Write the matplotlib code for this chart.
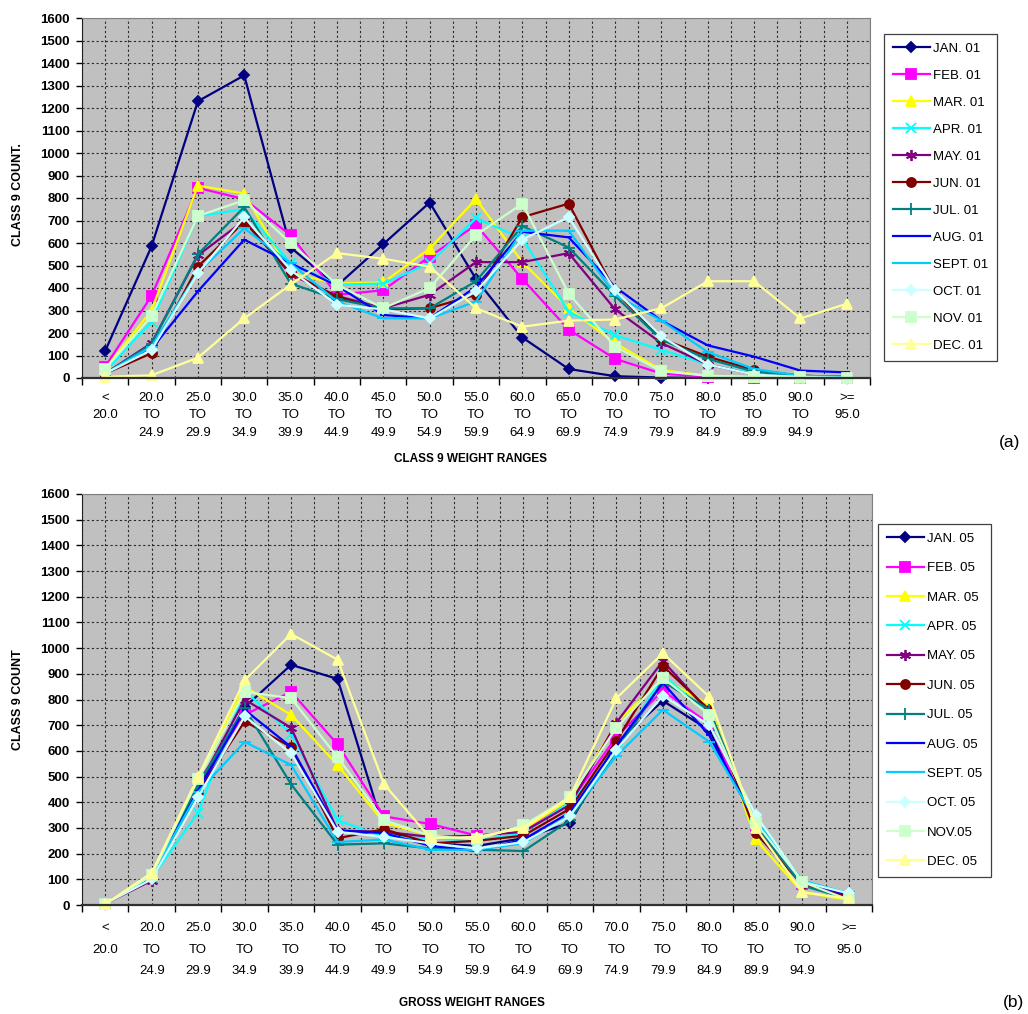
import matplotlib
matplotlib.use("Agg")
import matplotlib.pyplot as plt
from matplotlib.ticker import FixedLocator, NullFormatter

plt.rcParams['font.family'] = ['Liberation Sans', 'DejaVu Sans']

# Weight range categories (x axis)
weight_labels = ["<\n20.0", "20.0\nTO\n24.9", "25.0\nTO\n29.9", "30.0\nTO\n34.9",
                 "35.0\nTO\n39.9", "40.0\nTO\n44.9", "45.0\nTO\n49.9", "50.0\nTO\n54.9",
                 "55.0\nTO\n59.9", "60.0\nTO\n64.9", "65.0\nTO\n69.9", "70.0\nTO\n74.9",
                 "75.0\nTO\n79.9", "80.0\nTO\n84.9", "85.0\nTO\n89.9", "90.0\nTO\n94.9",
                 ">=\n95.0"]
y_ticks = list(range(0, 1700, 100))

# 2001 monthly class 9 counts
jan_01 = [120, 585, 1230, 1345, 580, 410, 595, 780, 440, 180, 40, 8, 2, 0, 0, 0, 0]
feb_01 = [50, 365, 845, 795, 635, 370, 390, 540, 680, 440, 215, 85, 20, 5, 2, 0, 0]
mar_01 = [40, 300, 855, 820, 465, 420, 425, 575, 795, 515, 310, 155, 35, 10, 3, 0, 0]
apr_01 = [30, 250, 720, 750, 510, 415, 420, 510, 710, 620, 295, 190, 125, 60, 20, 5, 0]
may_01 = [20, 155, 545, 700, 460, 365, 310, 370, 515, 515, 555, 305, 155, 60, 15, 5, 0]
jun_01 = [20, 110, 495, 695, 470, 360, 305, 310, 370, 715, 775, 385, 175, 95, 35, 10, 5]
jul_01 = [20, 150, 550, 760, 420, 350, 310, 310, 430, 675, 580, 365, 170, 85, 28, 10, 5]
aug_01 = [20, 130, 385, 615, 510, 410, 280, 265, 405, 650, 625, 405, 255, 145, 95, 33, 25]
sep_01 = [20, 140, 470, 665, 510, 340, 265, 265, 340, 655, 655, 370, 255, 115, 40, 10, 5]
oct_01 = [20, 125, 465, 715, 480, 325, 305, 265, 385, 615, 715, 390, 185, 60, 15, 5, 0]
nov_01 = [40, 275, 720, 790, 600, 415, 310, 400, 635, 775, 375, 140, 30, 10, 5, 3, 0]
dec_01 = [5, 12, 90, 265, 415, 555, 530, 495, 310, 228, 255, 260, 310, 430, 430, 265, 330]

# 2005 monthly class 9 counts
jan_05 = [5, 120, 450, 770, 935, 880, 290, 240, 230, 260, 320, 630, 795, 680, 310, 80, 35]
feb_05 = [5, 110, 480, 740, 830, 625, 345, 315, 270, 290, 400, 655, 835, 705, 300, 80, 30]
mar_05 = [5, 110, 490, 850, 740, 545, 320, 270, 265, 295, 410, 710, 880, 780, 255, 50, 20]
apr_05 = [5, 105, 360, 835, 665, 330, 265, 260, 250, 280, 400, 590, 895, 740, 320, 90, 30]
may_05 = [5, 95, 460, 800, 690, 290, 285, 265, 270, 285, 390, 710, 950, 750, 300, 85, 35]
jun_05 = [5, 110, 440, 715, 615, 260, 295, 240, 250, 270, 375, 640, 930, 760, 280, 80, 30]
jul_05 = [5, 110, 470, 765, 470, 235, 240, 220, 215, 210, 330, 600, 870, 760, 310, 75, 25]
aug_05 = [5, 120, 445, 760, 615, 290, 280, 230, 210, 255, 360, 620, 865, 660, 320, 90, 40]
sep_05 = [5, 115, 440, 635, 545, 245, 255, 215, 215, 240, 350, 580, 760, 635, 330, 95, 45]
oct_05 = [5, 100, 420, 735, 590, 285, 265, 240, 220, 245, 345, 605, 815, 700, 350, 90, 45]
nov_05 = [5, 115, 490, 830, 805, 575, 330, 270, 255, 310, 420, 690, 885, 740, 320, 90, 20]
dec_05 = [5, 125, 500, 875, 1055, 955, 470, 260, 265, 300, 420, 805, 980, 810, 300, 50, 25]

labels_01 = ["JAN. 01", "FEB. 01", "MAR. 01", "APR. 01", "MAY. 01", "JUN. 01",
             "JUL. 01", "AUG. 01", "SEPT. 01", "OCT. 01", "NOV. 01", "DEC. 01"]
labels_05 = ["JAN. 05", "FEB. 05", "MAR. 05", "APR. 05", "MAY. 05", "JUN. 05",
             "JUL. 05", "AUG. 05", "SEPT. 05", "OCT. 05", "NOV.05", "DEC. 05"]
series_01 = [jan_01, feb_01, mar_01, apr_01, may_01, jun_01,
             jul_01, aug_01, sep_01, oct_01, nov_01, dec_01]
series_05 = [jan_05, feb_05, mar_05, apr_05, may_05, jun_05,
             jul_05, aug_05, sep_05, oct_05, nov_05, dec_05]

# old spreadsheet palette / marker cycle
colors = ["#000080", "#FF00FF", "#FFFF00", "#00FFFF", "#800080", "#800000",
          "#008080", "#0000FF", "#00CCFF", "#CCFFFF", "#CCFFCC", "#FFFF99"]
markers = ["D", "s", "^", "x", (6, 2, 0), "o", "+", "_", "_", "D", "s", "^"]
msizes = [5.5, 6.5, 7, 7, 8, 6.5, 8, 5, 8, 5.5, 6.5, 7]

W, H = 1028, 1014


def fig_rect(left, top, right, bottom):
    return [left / W, 1 - bottom / H, (right - left) / W, (bottom - top) / H]


def draw_panel(fig, rect, series, labels, linesp, xpad, ylabel, xlabel,
               ylabel_pos, xlabel_pos, legend_rect, legend_sp):
    ax = fig.add_axes(rect)
    ax.set_facecolor("#C0C0C0")
    x = list(range(len(weight_labels)))
    handles = []
    for vals, c, m, ms, lab in zip(series, colors, markers, msizes, labels):
        h, = ax.plot(x, vals, color=c, lw=1.6, marker=m, ms=ms, mec=c, mfc=c,
                     mew=1.3, label=lab, clip_on=False)
        handles.append(h)

    ax.set_xlim(-0.5, 16.5)
    ax.set_ylim(0, 1600)
    ax.set_yticks(y_ticks)
    ax.set_yticklabels([str(v) for v in y_ticks], fontsize=9.5, fontweight="bold")
    ax.tick_params(axis="y", direction="out", length=4, width=1, pad=5)

    # boundary ticks as majors, category labels on minors
    ax.xaxis.set_major_locator(FixedLocator([k + 0.5 for k in range(-1, 17)]))
    ax.xaxis.set_major_formatter(NullFormatter())
    ax.xaxis.set_minor_locator(FixedLocator(x))
    ax.set_xticklabels(weight_labels, minor=True, fontsize=9.5, linespacing=linesp)
    ax.tick_params(axis="x", which="major", direction="out", length=5, width=1)
    ax.tick_params(axis="x", which="minor", length=0, pad=xpad)

    grid_kw = dict(color="#2a2a2a", lw=0.8, linestyle=(0, (2, 2.2)))
    ax.grid(True, which="major", axis="both", **grid_kw)
    ax.grid(True, which="minor", axis="x", **grid_kw)
    ax.set_axisbelow(True)

    for s in ("top", "right"):
        ax.spines[s].set_color("#808080")
    ax.spines["left"].set_color("#202020")
    ax.spines["bottom"].set_color("#303030")
    ax.spines["bottom"].set_linewidth(1.6)

    fig.text(ylabel_pos[0] / W, 1 - ylabel_pos[1] / H, ylabel, rotation=90,
             ha="center", va="center", fontsize=9, fontweight="bold")
    fig.text(xlabel_pos[0] / W, 1 - xlabel_pos[1] / H, xlabel,
             ha="center", va="center", fontsize=8.5, fontweight="bold")

    leg = fig.legend(handles=handles, loc="upper left",
                     bbox_to_anchor=(legend_rect[0] / W, 1 - legend_rect[1] / H),
                     fontsize=9.5, frameon=True, fancybox=False, framealpha=1,
                     edgecolor="#404040", handlelength=2.8, handletextpad=0.25,
                     labelspacing=legend_sp, borderpad=0.65, borderaxespad=0)
    leg.get_frame().set_linewidth(0.9)
    return ax


fig = plt.figure(figsize=(W / 100, H / 100), dpi=100)

draw_panel(fig, fig_rect(82, 18, 870, 378), series_01, labels_01, 1.62, 10,
           "CLASS 9 COUNT.", "CLASS 9 WEIGHT RANGES",
           (18, 195), (470, 459), (884, 34), 1.12)
draw_panel(fig, fig_rect(82, 494, 872, 905), series_05, labels_05, 2.05, 12.5,
           "CLASS 9 COUNT", "GROSS WEIGHT RANGES",
           (18, 700), (472, 1003), (878, 524), 1.3)

fig.text(1010 / W, 1 - 443 / H, "(a)", ha="center", va="center", fontsize=12.5)
fig.text(1014 / W, 1 - 1003 / H, "(b)", ha="center", va="center", fontsize=12.5)

fig.savefig("out.png", dpi=100)
